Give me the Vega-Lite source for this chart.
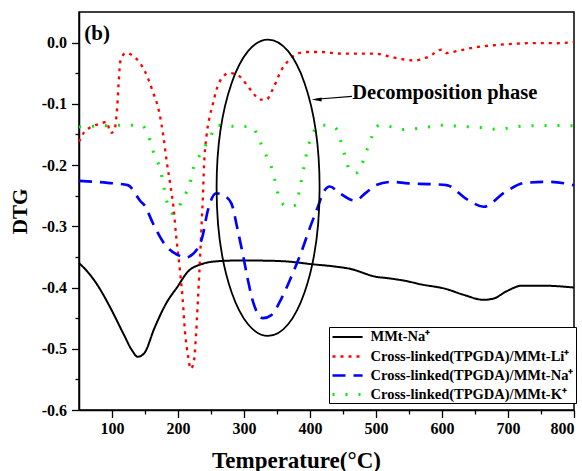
{
  "$schema": "https://vega.github.io/schema/vega-lite/v6.json",
  "width": 495,
  "height": 398,
  "autosize": {"type": "none"},
  "padding": {"left": 79, "top": 12, "right": 8, "bottom": 61},
  "background": "white",
  "config": {
    "font": "Liberation Serif",
    "view": {"stroke": "black", "strokeWidth": 1.5},
    "axis": {
      "domainColor": "black",
      "domainWidth": 1.5,
      "tickColor": "black",
      "tickWidth": 1.3,
      "grid": false,
      "labelColor": "black",
      "labelFont": "Liberation Serif",
      "labelFontWeight": "bold",
      "titleFont": "Liberation Serif",
      "titleFontWeight": "bold",
      "titleColor": "black"
    }
  },
  "datasets": {
    "dtg": [
      {"series": "MMt-Na⁺", "t": 50, "v": -0.360},
      {"series": "MMt-Na⁺", "t": 62, "v": -0.373},
      {"series": "MMt-Na⁺", "t": 78, "v": -0.396},
      {"series": "MMt-Na⁺", "t": 98, "v": -0.434},
      {"series": "MMt-Na⁺", "t": 118, "v": -0.477},
      {"series": "MMt-Na⁺", "t": 130, "v": -0.502},
      {"series": "MMt-Na⁺", "t": 139, "v": -0.513},
      {"series": "MMt-Na⁺", "t": 149, "v": -0.507},
      {"series": "MMt-Na⁺", "t": 164, "v": -0.467},
      {"series": "MMt-Na⁺", "t": 182, "v": -0.426},
      {"series": "MMt-Na⁺", "t": 199, "v": -0.399},
      {"series": "MMt-Na⁺", "t": 215, "v": -0.374},
      {"series": "MMt-Na⁺", "t": 235, "v": -0.362},
      {"series": "MMt-Na⁺", "t": 260, "v": -0.357},
      {"series": "MMt-Na⁺", "t": 283, "v": -0.356},
      {"series": "MMt-Na⁺", "t": 320, "v": -0.356},
      {"series": "MMt-Na⁺", "t": 359, "v": -0.357},
      {"series": "MMt-Na⁺", "t": 404, "v": -0.362},
      {"series": "MMt-Na⁺", "t": 440, "v": -0.366},
      {"series": "MMt-Na⁺", "t": 463, "v": -0.370},
      {"series": "MMt-Na⁺", "t": 483, "v": -0.377},
      {"series": "MMt-Na⁺", "t": 494, "v": -0.381},
      {"series": "MMt-Na⁺", "t": 520, "v": -0.385},
      {"series": "MMt-Na⁺", "t": 544, "v": -0.389},
      {"series": "MMt-Na⁺", "t": 569, "v": -0.395},
      {"series": "MMt-Na⁺", "t": 605, "v": -0.402},
      {"series": "MMt-Na⁺", "t": 633, "v": -0.412},
      {"series": "MMt-Na⁺", "t": 663, "v": -0.420},
      {"series": "MMt-Na⁺", "t": 678, "v": -0.418},
      {"series": "MMt-Na⁺", "t": 698, "v": -0.406},
      {"series": "MMt-Na⁺", "t": 721, "v": -0.397},
      {"series": "MMt-Na⁺", "t": 754, "v": -0.397},
      {"series": "MMt-Na⁺", "t": 800, "v": -0.400},

      {"series": "Cross-linked(TPGDA)/MMt-Li⁺", "t": 50, "v": -0.162},
      {"series": "Cross-linked(TPGDA)/MMt-Li⁺", "t": 58, "v": -0.146},
      {"series": "Cross-linked(TPGDA)/MMt-Li⁺", "t": 68, "v": -0.138},
      {"series": "Cross-linked(TPGDA)/MMt-Li⁺", "t": 83, "v": -0.132},
      {"series": "Cross-linked(TPGDA)/MMt-Li⁺", "t": 92, "v": -0.1295},
      {"series": "Cross-linked(TPGDA)/MMt-Li⁺", "t": 98, "v": -0.1475},
      {"series": "Cross-linked(TPGDA)/MMt-Li⁺", "t": 104, "v": -0.143},
      {"series": "Cross-linked(TPGDA)/MMt-Li⁺", "t": 106, "v": -0.127},
      {"series": "Cross-linked(TPGDA)/MMt-Li⁺", "t": 108, "v": -0.105},
      {"series": "Cross-linked(TPGDA)/MMt-Li⁺", "t": 110, "v": -0.067},
      {"series": "Cross-linked(TPGDA)/MMt-Li⁺", "t": 113, "v": -0.029},
      {"series": "Cross-linked(TPGDA)/MMt-Li⁺", "t": 121, "v": -0.017},
      {"series": "Cross-linked(TPGDA)/MMt-Li⁺", "t": 134, "v": -0.0235},
      {"series": "Cross-linked(TPGDA)/MMt-Li⁺", "t": 149, "v": -0.045},
      {"series": "Cross-linked(TPGDA)/MMt-Li⁺", "t": 162, "v": -0.0805},
      {"series": "Cross-linked(TPGDA)/MMt-Li⁺", "t": 172, "v": -0.116},
      {"series": "Cross-linked(TPGDA)/MMt-Li⁺", "t": 178, "v": -0.154},
      {"series": "Cross-linked(TPGDA)/MMt-Li⁺", "t": 183, "v": -0.195},
      {"series": "Cross-linked(TPGDA)/MMt-Li⁺", "t": 188.5, "v": -0.233},
      {"series": "Cross-linked(TPGDA)/MMt-Li⁺", "t": 193.5, "v": -0.272},
      {"series": "Cross-linked(TPGDA)/MMt-Li⁺", "t": 197, "v": -0.314},
      {"series": "Cross-linked(TPGDA)/MMt-Li⁺", "t": 202, "v": -0.363},
      {"series": "Cross-linked(TPGDA)/MMt-Li⁺", "t": 207, "v": -0.418},
      {"series": "Cross-linked(TPGDA)/MMt-Li⁺", "t": 210.6, "v": -0.472},
      {"series": "Cross-linked(TPGDA)/MMt-Li⁺", "t": 215.8, "v": -0.515},
      {"series": "Cross-linked(TPGDA)/MMt-Li⁺", "t": 219, "v": -0.533},
      {"series": "Cross-linked(TPGDA)/MMt-Li⁺", "t": 224, "v": -0.521},
      {"series": "Cross-linked(TPGDA)/MMt-Li⁺", "t": 227.3, "v": -0.4775},
      {"series": "Cross-linked(TPGDA)/MMt-Li⁺", "t": 229.8, "v": -0.4285},
      {"series": "Cross-linked(TPGDA)/MMt-Li⁺", "t": 232.4, "v": -0.374},
      {"series": "Cross-linked(TPGDA)/MMt-Li⁺", "t": 234.8, "v": -0.32},
      {"series": "Cross-linked(TPGDA)/MMt-Li⁺", "t": 236.4, "v": -0.282},
      {"series": "Cross-linked(TPGDA)/MMt-Li⁺", "t": 237.6, "v": -0.255},
      {"series": "Cross-linked(TPGDA)/MMt-Li⁺", "t": 239.5, "v": -0.200},
      {"series": "Cross-linked(TPGDA)/MMt-Li⁺", "t": 243, "v": -0.154},
      {"series": "Cross-linked(TPGDA)/MMt-Li⁺", "t": 248, "v": -0.121},
      {"series": "Cross-linked(TPGDA)/MMt-Li⁺", "t": 253, "v": -0.0995},
      {"series": "Cross-linked(TPGDA)/MMt-Li⁺", "t": 258, "v": -0.078},
      {"series": "Cross-linked(TPGDA)/MMt-Li⁺", "t": 266, "v": -0.0587},
      {"series": "Cross-linked(TPGDA)/MMt-Li⁺", "t": 278, "v": -0.0496},
      {"series": "Cross-linked(TPGDA)/MMt-Li⁺", "t": 291, "v": -0.0533},
      {"series": "Cross-linked(TPGDA)/MMt-Li⁺", "t": 303.6, "v": -0.068},
      {"series": "Cross-linked(TPGDA)/MMt-Li⁺", "t": 313.6, "v": -0.082},
      {"series": "Cross-linked(TPGDA)/MMt-Li⁺", "t": 324, "v": -0.093},
      {"series": "Cross-linked(TPGDA)/MMt-Li⁺", "t": 334, "v": -0.093},
      {"series": "Cross-linked(TPGDA)/MMt-Li⁺", "t": 344, "v": -0.075},
      {"series": "Cross-linked(TPGDA)/MMt-Li⁺", "t": 358, "v": -0.0425},
      {"series": "Cross-linked(TPGDA)/MMt-Li⁺", "t": 368, "v": -0.029},
      {"series": "Cross-linked(TPGDA)/MMt-Li⁺", "t": 379, "v": -0.019},
      {"series": "Cross-linked(TPGDA)/MMt-Li⁺", "t": 394.5, "v": -0.0153},
      {"series": "Cross-linked(TPGDA)/MMt-Li⁺", "t": 415, "v": -0.0153},
      {"series": "Cross-linked(TPGDA)/MMt-Li⁺", "t": 448, "v": -0.018},
      {"series": "Cross-linked(TPGDA)/MMt-Li⁺", "t": 498.5, "v": -0.018},
      {"series": "Cross-linked(TPGDA)/MMt-Li⁺", "t": 519, "v": -0.0224},
      {"series": "Cross-linked(TPGDA)/MMt-Li⁺", "t": 539, "v": -0.027},
      {"series": "Cross-linked(TPGDA)/MMt-Li⁺", "t": 559, "v": -0.029},
      {"series": "Cross-linked(TPGDA)/MMt-Li⁺", "t": 579, "v": -0.0235},
      {"series": "Cross-linked(TPGDA)/MMt-Li⁺", "t": 599.5, "v": -0.0114},
      {"series": "Cross-linked(TPGDA)/MMt-Li⁺", "t": 607, "v": -0.017},
      {"series": "Cross-linked(TPGDA)/MMt-Li⁺", "t": 623, "v": -0.0137},
      {"series": "Cross-linked(TPGDA)/MMt-Li⁺", "t": 653, "v": -0.0072},
      {"series": "Cross-linked(TPGDA)/MMt-Li⁺", "t": 683, "v": -0.0039},
      {"series": "Cross-linked(TPGDA)/MMt-Li⁺", "t": 714, "v": -0.0016},
      {"series": "Cross-linked(TPGDA)/MMt-Li⁺", "t": 744, "v": -0.0007},
      {"series": "Cross-linked(TPGDA)/MMt-Li⁺", "t": 774, "v": -0.001},
      {"series": "Cross-linked(TPGDA)/MMt-Li⁺", "t": 800, "v": 0.001},

      {"series": "Cross-linked(TPGDA)/MMt-Na⁺", "t": 50, "v": -0.2258},
      {"series": "Cross-linked(TPGDA)/MMt-Na⁺", "t": 93.5, "v": -0.229},
      {"series": "Cross-linked(TPGDA)/MMt-Na⁺", "t": 124, "v": -0.2328},
      {"series": "Cross-linked(TPGDA)/MMt-Na⁺", "t": 144, "v": -0.260},
      {"series": "Cross-linked(TPGDA)/MMt-Na⁺", "t": 149, "v": -0.2654},
      {"series": "Cross-linked(TPGDA)/MMt-Na⁺", "t": 162, "v": -0.295},
      {"series": "Cross-linked(TPGDA)/MMt-Na⁺", "t": 179, "v": -0.328},
      {"series": "Cross-linked(TPGDA)/MMt-Na⁺", "t": 200, "v": -0.347},
      {"series": "Cross-linked(TPGDA)/MMt-Na⁺", "t": 211, "v": -0.351},
      {"series": "Cross-linked(TPGDA)/MMt-Na⁺", "t": 230, "v": -0.336},
      {"series": "Cross-linked(TPGDA)/MMt-Na⁺", "t": 237, "v": -0.317},
      {"series": "Cross-linked(TPGDA)/MMt-Na⁺", "t": 245, "v": -0.275},
      {"series": "Cross-linked(TPGDA)/MMt-Na⁺", "t": 258, "v": -0.246},
      {"series": "Cross-linked(TPGDA)/MMt-Na⁺", "t": 270, "v": -0.250},
      {"series": "Cross-linked(TPGDA)/MMt-Na⁺", "t": 281, "v": -0.263},
      {"series": "Cross-linked(TPGDA)/MMt-Na⁺", "t": 291, "v": -0.309},
      {"series": "Cross-linked(TPGDA)/MMt-Na⁺", "t": 298.5, "v": -0.347},
      {"series": "Cross-linked(TPGDA)/MMt-Na⁺", "t": 306, "v": -0.388},
      {"series": "Cross-linked(TPGDA)/MMt-Na⁺", "t": 313.6, "v": -0.423},
      {"series": "Cross-linked(TPGDA)/MMt-Na⁺", "t": 328.8, "v": -0.450},
      {"series": "Cross-linked(TPGDA)/MMt-Na⁺", "t": 341.5, "v": -0.445},
      {"series": "Cross-linked(TPGDA)/MMt-Na⁺", "t": 356.7, "v": -0.418},
      {"series": "Cross-linked(TPGDA)/MMt-Na⁺", "t": 371.8, "v": -0.382},
      {"series": "Cross-linked(TPGDA)/MMt-Na⁺", "t": 387, "v": -0.3416},
      {"series": "Cross-linked(TPGDA)/MMt-Na⁺", "t": 399.5, "v": -0.3034},
      {"series": "Cross-linked(TPGDA)/MMt-Na⁺", "t": 412, "v": -0.268},
      {"series": "Cross-linked(TPGDA)/MMt-Na⁺", "t": 420, "v": -0.245},
      {"series": "Cross-linked(TPGDA)/MMt-Na⁺", "t": 430, "v": -0.235},
      {"series": "Cross-linked(TPGDA)/MMt-Na⁺", "t": 445, "v": -0.246},
      {"series": "Cross-linked(TPGDA)/MMt-Na⁺", "t": 468, "v": -0.258},
      {"series": "Cross-linked(TPGDA)/MMt-Na⁺", "t": 485, "v": -0.245},
      {"series": "Cross-linked(TPGDA)/MMt-Na⁺", "t": 500, "v": -0.2328},
      {"series": "Cross-linked(TPGDA)/MMt-Na⁺", "t": 524, "v": -0.2274},
      {"series": "Cross-linked(TPGDA)/MMt-Na⁺", "t": 549, "v": -0.230},
      {"series": "Cross-linked(TPGDA)/MMt-Na⁺", "t": 579, "v": -0.231},
      {"series": "Cross-linked(TPGDA)/MMt-Na⁺", "t": 607, "v": -0.2328},
      {"series": "Cross-linked(TPGDA)/MMt-Na⁺", "t": 638, "v": -0.256},
      {"series": "Cross-linked(TPGDA)/MMt-Na⁺", "t": 663, "v": -0.268},
      {"series": "Cross-linked(TPGDA)/MMt-Na⁺", "t": 696, "v": -0.2437},
      {"series": "Cross-linked(TPGDA)/MMt-Na⁺", "t": 726, "v": -0.229},
      {"series": "Cross-linked(TPGDA)/MMt-Na⁺", "t": 764, "v": -0.2274},
      {"series": "Cross-linked(TPGDA)/MMt-Na⁺", "t": 800, "v": -0.233},

      {"series": "Cross-linked(TPGDA)/MMt-K⁺", "t": 50, "v": -0.1377},
      {"series": "Cross-linked(TPGDA)/MMt-K⁺", "t": 73, "v": -0.1366},
      {"series": "Cross-linked(TPGDA)/MMt-K⁺", "t": 114, "v": -0.135},
      {"series": "Cross-linked(TPGDA)/MMt-K⁺", "t": 144, "v": -0.135},
      {"series": "Cross-linked(TPGDA)/MMt-K⁺", "t": 154, "v": -0.1485},
      {"series": "Cross-linked(TPGDA)/MMt-K⁺", "t": 159, "v": -0.165},
      {"series": "Cross-linked(TPGDA)/MMt-K⁺", "t": 165, "v": -0.1866},
      {"series": "Cross-linked(TPGDA)/MMt-K⁺", "t": 172, "v": -0.203},
      {"series": "Cross-linked(TPGDA)/MMt-K⁺", "t": 177, "v": -0.227},
      {"series": "Cross-linked(TPGDA)/MMt-K⁺", "t": 180, "v": -0.2437},
      {"series": "Cross-linked(TPGDA)/MMt-K⁺", "t": 184, "v": -0.263},
      {"series": "Cross-linked(TPGDA)/MMt-K⁺", "t": 192, "v": -0.279},
      {"series": "Cross-linked(TPGDA)/MMt-K⁺", "t": 198, "v": -0.275},
      {"series": "Cross-linked(TPGDA)/MMt-K⁺", "t": 206.7, "v": -0.257},
      {"series": "Cross-linked(TPGDA)/MMt-K⁺", "t": 212, "v": -0.246},
      {"series": "Cross-linked(TPGDA)/MMt-K⁺", "t": 217.7, "v": -0.233},
      {"series": "Cross-linked(TPGDA)/MMt-K⁺", "t": 222, "v": -0.210},
      {"series": "Cross-linked(TPGDA)/MMt-K⁺", "t": 229, "v": -0.192},
      {"series": "Cross-linked(TPGDA)/MMt-K⁺", "t": 236, "v": -0.178},
      {"series": "Cross-linked(TPGDA)/MMt-K⁺", "t": 248, "v": -0.157},
      {"series": "Cross-linked(TPGDA)/MMt-K⁺", "t": 258, "v": -0.135},
      {"series": "Cross-linked(TPGDA)/MMt-K⁺", "t": 283, "v": -0.1366},
      {"series": "Cross-linked(TPGDA)/MMt-K⁺", "t": 313.6, "v": -0.1377},
      {"series": "Cross-linked(TPGDA)/MMt-K⁺", "t": 319, "v": -0.1485},
      {"series": "Cross-linked(TPGDA)/MMt-K⁺", "t": 331, "v": -0.1785},
      {"series": "Cross-linked(TPGDA)/MMt-K⁺", "t": 341.5, "v": -0.203},
      {"series": "Cross-linked(TPGDA)/MMt-K⁺", "t": 348, "v": -0.230},
      {"series": "Cross-linked(TPGDA)/MMt-K⁺", "t": 354, "v": -0.257},
      {"series": "Cross-linked(TPGDA)/MMt-K⁺", "t": 367, "v": -0.268},
      {"series": "Cross-linked(TPGDA)/MMt-K⁺", "t": 379, "v": -0.2654},
      {"series": "Cross-linked(TPGDA)/MMt-K⁺", "t": 384, "v": -0.241},
      {"series": "Cross-linked(TPGDA)/MMt-K⁺", "t": 392, "v": -0.197},
      {"series": "Cross-linked(TPGDA)/MMt-K⁺", "t": 397, "v": -0.170},
      {"series": "Cross-linked(TPGDA)/MMt-K⁺", "t": 402, "v": -0.1566},
      {"series": "Cross-linked(TPGDA)/MMt-K⁺", "t": 410, "v": -0.1366},
      {"series": "Cross-linked(TPGDA)/MMt-K⁺", "t": 420, "v": -0.135},
      {"series": "Cross-linked(TPGDA)/MMt-K⁺", "t": 438, "v": -0.1387},
      {"series": "Cross-linked(TPGDA)/MMt-K⁺", "t": 445.5, "v": -0.1566},
      {"series": "Cross-linked(TPGDA)/MMt-K⁺", "t": 450.6, "v": -0.1757},
      {"series": "Cross-linked(TPGDA)/MMt-K⁺", "t": 455.6, "v": -0.195},
      {"series": "Cross-linked(TPGDA)/MMt-K⁺", "t": 460.6, "v": -0.211},
      {"series": "Cross-linked(TPGDA)/MMt-K⁺", "t": 470.8, "v": -0.2127},
      {"series": "Cross-linked(TPGDA)/MMt-K⁺", "t": 478.3, "v": -0.200},
      {"series": "Cross-linked(TPGDA)/MMt-K⁺", "t": 483.3, "v": -0.1838},
      {"series": "Cross-linked(TPGDA)/MMt-K⁺", "t": 488.5, "v": -0.169},
      {"series": "Cross-linked(TPGDA)/MMt-K⁺", "t": 493.5, "v": -0.154},
      {"series": "Cross-linked(TPGDA)/MMt-K⁺", "t": 498.5, "v": -0.140},
      {"series": "Cross-linked(TPGDA)/MMt-K⁺", "t": 506, "v": -0.135},
      {"series": "Cross-linked(TPGDA)/MMt-K⁺", "t": 524, "v": -0.1377},
      {"series": "Cross-linked(TPGDA)/MMt-K⁺", "t": 541.5, "v": -0.142},
      {"series": "Cross-linked(TPGDA)/MMt-K⁺", "t": 574, "v": -0.1387},
      {"series": "Cross-linked(TPGDA)/MMt-K⁺", "t": 597, "v": -0.135},
      {"series": "Cross-linked(TPGDA)/MMt-K⁺", "t": 615, "v": -0.136},
      {"series": "Cross-linked(TPGDA)/MMt-K⁺", "t": 658, "v": -0.1387},
      {"series": "Cross-linked(TPGDA)/MMt-K⁺", "t": 682, "v": -0.1414},
      {"series": "Cross-linked(TPGDA)/MMt-K⁺", "t": 721, "v": -0.1366},
      {"series": "Cross-linked(TPGDA)/MMt-K⁺", "t": 759, "v": -0.1354},
      {"series": "Cross-linked(TPGDA)/MMt-K⁺", "t": 800, "v": -0.136}
    ],
    "notes": [
      {"kind": "panel", "label": "(b)", "t": 58, "v": 0.005},
      {"kind": "phase", "label": "Decomposition phase", "t": 464, "v": -0.0914},
      {"kind": "ring", "t": 336.5, "v": -0.237},
      {"kind": "arrow", "t": 463.6, "v": -0.0877, "t2": 409, "v2": -0.0925},
      {"kind": "head", "t": 410, "v": -0.0928}
    ]
  },
  "layer": [
    {
      "data": {"name": "dtg"},
      "mark": {"type": "line", "interpolate": "monotone", "strokeCap": "butt"},
      "encoding": {
        "x": {
          "field": "t", "type": "quantitative",
          "scale": {"domain": [50, 800], "nice": false, "zero": false},
          "axis": {
            "values": [100, 200, 300, 400, 500, 600, 700, 800],
            "tickSize": 7.5,
            "labelFontSize": 16,
            "labelPadding": 3,
            "title": "Temperature(°C)",
            "titleFontSize": 23,
            "titleX": 217,
            "titleY": 57,
            "titleBaseline": "alphabetic",
            "titleAnchor": "middle"
          }
        },
        "y": {
          "field": "v", "type": "quantitative",
          "scale": {"domain": [-0.6, 0.05], "nice": false, "zero": false},
          "axis": {
            "values": [-0.6, -0.5, -0.4, -0.3, -0.2, -0.1, 0.0],
            "labelExpr": "replace(format(datum.value, '.1f'), '−', '-')",
            "tickSize": 7.5,
            "labelFontSize": 16,
            "labelPadding": 5,
            "title": "DTG",
            "titleFontSize": 21,
            "titlePadding": 11
          }
        },
        "color": {
          "field": "series", "type": "nominal",
          "scale": {
            "domain": ["MMt-Na⁺", "Cross-linked(TPGDA)/MMt-Li⁺", "Cross-linked(TPGDA)/MMt-Na⁺", "Cross-linked(TPGDA)/MMt-K⁺"],
            "range": ["#000000", "#FF0000", "#0000FF", "#00EE00"]
          },
          "legend": {
            "title": null,
            "orient": "none",
            "legendX": 250,
            "legendY": 315,
            "strokeColor": "black",
            "fillColor": "white",
            "padding": 2,
            "rowPadding": 4,
            "symbolType": "M -1,0 L 3.3,0",
            "symbolSize": 196,
            "symbolStrokeWidth": 2.5,
            "labelFont": "Liberation Serif",
            "labelFontWeight": "bold",
            "labelFontSize": 14.5,
            "labelColor": "black",
            "labelLimit": 400,
            "labelOffset": 22.5
          }
        },
        "strokeDash": {
          "field": "series", "type": "nominal",
          "scale": {
            "domain": ["MMt-Na⁺", "Cross-linked(TPGDA)/MMt-Li⁺", "Cross-linked(TPGDA)/MMt-Na⁺", "Cross-linked(TPGDA)/MMt-K⁺"],
            "range": [[1, 0], [3, 5], [13, 8], [2, 11]]
          }
        },
        "strokeWidth": {
          "field": "series", "type": "nominal",
          "scale": {
            "domain": ["MMt-Na⁺", "Cross-linked(TPGDA)/MMt-Li⁺", "Cross-linked(TPGDA)/MMt-Na⁺", "Cross-linked(TPGDA)/MMt-K⁺"],
            "range": [2, 3, 3.5, 2.5]
          },
          "legend": null
        }
      }
    },
    {
      "data": {"name": "notes"},
      "transform": [{"filter": "datum.kind === 'ring'"}],
      "mark": {
        "type": "point",
        "shape": "M 0,-1 C 0.192,-1 0.3475,-0.5523 0.3475,0 C 0.3475,0.5523 0.192,1 0,1 C -0.192,1 -0.3475,0.5523 -0.3475,0 C -0.3475,-0.5523 -0.192,-1 0,-1 Z",
        "size": 87853,
        "filled": false,
        "stroke": "black",
        "strokeWidth": 1.8,
        "opacity": 1
      },
      "encoding": {
        "x": {
          "field": "t", "type": "quantitative",
          "axis": {
            "orient": "bottom",
            "values": [150, 250, 350, 450, 550, 650, 750],
            "labels": false, "domain": false, "title": null,
            "tickSize": 4
          }
        },
        "y": {
          "field": "v", "type": "quantitative",
          "axis": {
            "orient": "left",
            "values": [-0.55, -0.45, -0.35, -0.25, -0.15, -0.05],
            "labels": false, "domain": false, "title": null,
            "tickSize": 4
          }
        }
      }
    },
    {
      "data": {"name": "notes"},
      "transform": [{"filter": "datum.kind === 'arrow'"}],
      "mark": {"type": "rule", "color": "black", "strokeWidth": 1.2},
      "encoding": {
        "x": {"field": "t", "type": "quantitative", "axis": null},
        "y": {"field": "v", "type": "quantitative", "axis": null},
        "x2": {"field": "t2"},
        "y2": {"field": "v2"}
      }
    },
    {
      "data": {"name": "notes"},
      "transform": [{"filter": "datum.kind === 'head'"}],
      "mark": {
        "type": "point",
        "shape": "M -1,0 L 1,-0.4 L 1,0.4 Z",
        "size": 100,
        "filled": true,
        "color": "black",
        "opacity": 1
      },
      "encoding": {
        "x": {"field": "t", "type": "quantitative", "axis": null},
        "y": {"field": "v", "type": "quantitative", "axis": null}
      }
    },
    {
      "data": {"name": "notes"},
      "transform": [{"filter": "datum.kind === 'phase'"}],
      "mark": {"type": "text", "align": "left", "baseline": "alphabetic", "font": "Liberation Serif", "fontWeight": "bold", "fontSize": 20.5, "color": "black"},
      "encoding": {
        "x": {"field": "t", "type": "quantitative", "axis": null},
        "y": {"field": "v", "type": "quantitative", "axis": null},
        "text": {"field": "label"}
      }
    },
    {
      "data": {"name": "notes"},
      "transform": [{"filter": "datum.kind === 'panel'"}],
      "mark": {"type": "text", "align": "left", "baseline": "alphabetic", "font": "Liberation Serif", "fontWeight": "bold", "fontSize": 21, "color": "black"},
      "encoding": {
        "x": {"field": "t", "type": "quantitative", "axis": null},
        "y": {"field": "v", "type": "quantitative", "axis": null},
        "text": {"field": "label"}
      }
    }
  ],
  "resolve": {"axis": {"x": "independent", "y": "independent"}}
}
